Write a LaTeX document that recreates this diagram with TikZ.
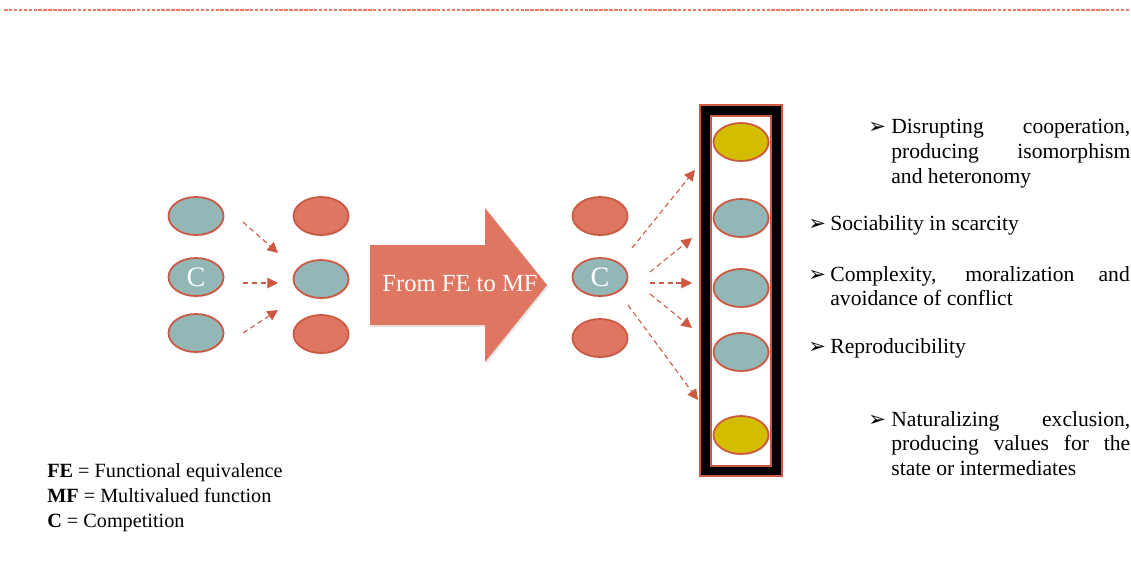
\documentclass[tikz,border=0pt]{standalone}
\usepackage{fontspec}
\setmainfont{Liberation Serif}
\newfontfamily\dingfont{DejaVu Sans}
\usetikzlibrary{shapes.geometric,arrows.meta,shadows}

\definecolor{rust}{RGB}{204,88,66}
\definecolor{salmon}{RGB}{222,118,98}
\definecolor{sage}{RGB}{146,183,182}
\definecolor{mustard}{RGB}{212,189,0}
\definecolor{rule}{RGB}{236,120,100}

\tikzset{
	blob/.style={ellipse, draw=rust, line width=1pt, minimum width=1.1cm, minimum height=0.76cm, inner sep=0pt,
		drop shadow={opacity=0.2, shadow xshift=0.6pt, shadow yshift=-0.8pt}},
	tealblob/.style={blob, fill=sage},
	redblob/.style={blob, fill=salmon},
	goldblob/.style={blob, fill=mustard},
	clabel/.style={text=white, font=\fontsize{16}{16}\selectfont},
	flow/.style={draw=rust, densely dashed, line width=0.6pt, -{Triangle[length=6pt,width=6pt]}},
	bullet/.style={inner sep=0pt, anchor=base west, font=\dingfont\fontsize{12}{12}\selectfont},
	item/.style={inner sep=0pt, anchor=base west, align=justify, font=\fontsize{12.3}{14.2}\selectfont},
}

\begin{document}
\begin{tikzpicture}[x=0.02cm,y=-0.02cm]
	\useasboundingbox (0,0) rectangle (1131,574);
	\fill[white] (0,0) rectangle (1131,574);
	\draw[rule, line width=0.7pt, dash pattern=on 2pt off 0.8pt] (4,10) -- (1131,10);

	% first stage: functional equivalence
	\node[tealblob] (l1) at (196,216) {};
	\node[tealblob] (l2) at (196,277) {};
	\node[clabel] at (l2) {C};
	\node[tealblob] (l3) at (196,333) {};
	\node[redblob] (m1) at (321,216) {};
	\node[tealblob] (m2) at (321,279) {};
	\node[redblob] (m3) at (321,334) {};
	\coordinate (a1s) at (243,222);
	\coordinate (a1e) at (278,253);
	\coordinate (a2s) at (243,283);
	\coordinate (a2e) at (278,283);
	\coordinate (a3s) at (243,333);
	\coordinate (a3e) at (278,310);
	\draw[flow] (a1s) -- (a1e);
	\draw[flow] (a2s) -- (a2e);
	\draw[flow] (a3s) -- (a3e);

	% the big arrow
	\fill[salmon, drop shadow={opacity=0.2, shadow xshift=0.8pt, shadow yshift=-1pt}]
		(370,245) -- (485,245) -- (485,208) -- (547,285) -- (485,362) -- (485,325) -- (370,325) -- cycle;
	\node[text=white, font=\fontsize{14}{14}\selectfont] (shift) at (460,284) {From FE to MF};

	% second stage: multivalued function
	\node[redblob] (r1) at (600,216) {};
	\node[tealblob] (r2) at (600,277) {};
	\node[clabel] at (r2) {C};
	\node[redblob] (r3) at (600,338) {};

	\draw[black, line width=0.18cm] (705.5,110.5) rectangle (776.5,471);
	\draw[rust, line width=0.8pt] (700,105) rectangle (782,476);
	\draw[rust, line width=0.8pt] (711,116) rectangle (771,466);
	\node[goldblob] (o1) at (741,142) {};
	\node[tealblob] (o2) at (741,218) {};
	\node[tealblob] (o3) at (741,288) {};
	\node[tealblob] (o4) at (741,352) {};
	\node[goldblob] (o5) at (741,435) {};

	\coordinate (b1s) at (632,248);
	\coordinate (b1e) at (695,170);
	\coordinate (b2s) at (650,272);
	\coordinate (b2e) at (692,238);
	\coordinate (b3s) at (650,283);
	\coordinate (b3e) at (692,283);
	\coordinate (b4s) at (650,294);
	\coordinate (b4e) at (692,328);
	\coordinate (b5s) at (628,305);
	\coordinate (b5e) at (698,400);
	\foreach \i in {1,...,5}
		\draw[flow] (b\i s) -- (b\i e);

	% effects
	\node[bullet] (d1) at (868,134) {➢};
	\node[item, text width=4.78cm] (t1) at (891,134) {Disrupting cooperation,\linebreak producing isomorphism\linebreak and heteronomy};
	\node[bullet] (d2) at (808,230) {➢};
	\node[item] (t2) at (830,230) {Sociability in scarcity};
	\node[bullet] (d3) at (808,281) {➢};
	\node[item, text width=5.99cm] (t3) at (830,281) {Complexity, moralization and\linebreak avoidance of conflict};
	\node[bullet] (d4) at (808,353) {➢};
	\node[item] (t4) at (830,353) {Reproducibility};
	\node[bullet] (d5) at (868,426) {➢};
	\node[item, text width=4.78cm] (t5) at (891,426) {Naturalizing exclusion,\linebreak producing values for the\linebreak state or intermediates};

	% legend
	\node[inner sep=0pt, anchor=base west, align=left, font=\fontsize{11.5}{14.2}\selectfont] (key) at (47,527)
		{\textbf{FE} = Functional equivalence\\ \textbf{MF} = Multivalued function\\ \textbf{C} = Competition};
\end{tikzpicture}
\end{document}
